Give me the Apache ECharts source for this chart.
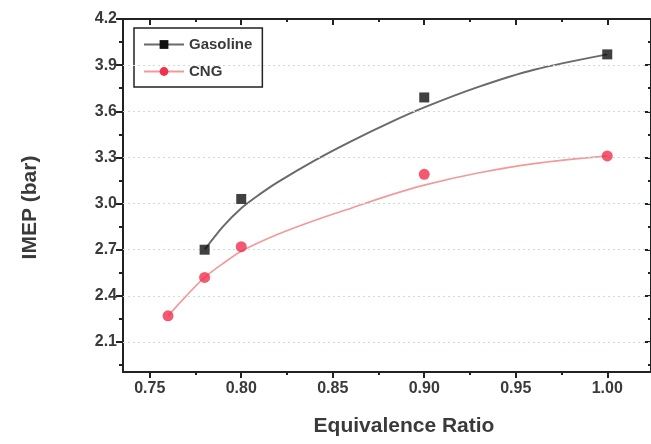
<!DOCTYPE html>
<html>
<head>
<meta charset="utf-8">
<script src="https://cdn.jsdelivr.net/npm/echarts@6/dist/echarts.min.js"></script>
<style>
html,body{margin:0;padding:0;background:#fff;}
#chart{width:651px;height:444px;}
</style>
</head>
<body>
<div id="chart"></div>
<script>
// Measured data points
const gasX = [0.78, 0.80, 0.90, 1.00];
const gasY = [2.70, 3.03, 3.69, 3.97];
const cngX = [0.76, 0.78, 0.80, 0.90, 1.00];
const cngY = [2.27, 2.52, 2.72, 3.19, 3.31];

// Fitted curves
const gasFitX = [0.78, 0.79, 0.80, 0.81, 0.82, 0.84, 0.86, 0.88, 0.90, 0.93, 0.96, 1.00];
const gasFitY = [2.70, 2.85, 2.97, 3.06, 3.14, 3.28, 3.405, 3.52, 3.625, 3.76, 3.87, 3.97];
const cngFitX = [0.76, 0.77, 0.78, 0.79, 0.80, 0.82, 0.84, 0.86, 0.88, 0.90, 0.93, 0.96, 1.00];
const cngFitY = [2.27, 2.40, 2.52, 2.61, 2.69, 2.80, 2.89, 2.97, 3.05, 3.12, 3.20, 3.26, 3.31];

// Tick values
const xMajorTicks = [0.75, 0.80, 0.85, 0.90, 0.95, 1.00];
const xMinorTicks = [0.775, 0.825, 0.875, 0.925, 0.975];
const yMajorTicks = [2.1, 2.4, 2.7, 3.0, 3.3, 3.6, 3.9, 4.2];
const yMinorTicks = [1.95, 2.25, 2.55, 2.85, 3.15, 3.45, 3.75, 4.05];
const yGridLines = [2.1, 2.4, 2.7, 3.0, 3.3, 3.6, 3.9];

const X_MIN = 0.7354, X_MAX = 1.0239, Y_MIN = 1.905, Y_MAX = 4.2;
const AX = '#222';
const TXT = '#3a3a3a';
const FONT = 'Liberation Sans';

function zip(a, b) { return a.map((v, i) => [v, b[i]]); }

function xAx(pos, ticks, len, inside, opts) {
  return Object.assign({
    type: 'value', position: pos, min: X_MIN, max: X_MAX,
    axisLine: { show: false, lineStyle: { color: AX, width: 2 } },
    axisTick: { show: true, inside: inside, length: len, customValues: ticks, lineStyle: { color: AX, width: 2 } },
    axisLabel: { show: false },
    splitLine: { show: false }
  }, opts || {});
}
function yAx(pos, ticks, len, inside, opts) {
  return Object.assign({
    type: 'value', position: pos, min: Y_MIN, max: Y_MAX,
    axisLine: { show: false, lineStyle: { color: AX, width: 2 } },
    axisTick: { show: true, inside: inside, length: len, customValues: ticks, lineStyle: { color: AX, width: 2 } },
    axisLabel: { show: false },
    splitLine: { show: false }
  }, opts || {});
}

const chart = echarts.init(document.getElementById('chart'), null, { renderer: 'canvas' });

const option = {
  animation: false,
  backgroundColor: '#fff',
  grid: { left: 123, right: -4, top: 19, bottom: 72, containLabel: false },
  legend: {
    orient: 'vertical',
    left: 134, top: 28,
    data: ['Gasoline', 'CNG'],
    itemWidth: 40, itemHeight: 11, itemGap: 12,
    padding: [9, 10, 8, 9],
    borderColor: '#222', borderWidth: 1.5,
    textStyle: { fontFamily: FONT, fontWeight: 'bold', fontSize: 15, color: TXT }
  },
  xAxis: [
    xAx('bottom', xMajorTicks, 6, false, {
      axisLine: { show: true, onZero: false, lineStyle: { color: AX, width: 2 } },
      axisLabel: { show: true, customValues: xMajorTicks, margin: 9,
        formatter: v => v.toFixed(2),
        fontFamily: FONT, fontWeight: 'bold', fontSize: 16, color: TXT },
      name: 'Equivalence Ratio', nameLocation: 'middle', nameGap: 44,
      nameTextStyle: { fontFamily: FONT, fontWeight: 'bold', fontSize: 21, color: TXT, padding: [0, 0, 0, 34] }
    }),
    xAx('bottom', xMinorTicks, 3, false),
    xAx('top', xMajorTicks, 6, true, { axisLine: { show: true, onZero: false, lineStyle: { color: AX, width: 2 } } }),
    xAx('top', xMinorTicks, 3, true)
  ],
  yAxis: [
    yAx('left', yMajorTicks, 7, false, {
      axisLine: { show: true, onZero: false, lineStyle: { color: AX, width: 2 } },
      axisLabel: { show: true, customValues: yMajorTicks, margin: 6,
        formatter: v => v.toFixed(1),
        fontFamily: FONT, fontWeight: 'bold', fontSize: 16, color: TXT },
      name: 'IMEP (bar)', nameLocation: 'middle', nameGap: 82,
      nameTextStyle: { fontFamily: FONT, fontWeight: 'bold', fontSize: 21, color: TXT, padding: [0, 24, 0, 0] }
    }),
    yAx('left', yMinorTicks, 4, false),
    yAx('right', yMajorTicks, 6, true, { axisLine: { show: true, onZero: false, lineStyle: { color: AX, width: 2 } } }),
    yAx('right', yMinorTicks, 3, true)
  ],
  series: [
    {
      name: 'grid', type: 'line', data: [], xAxisIndex: 0, yAxisIndex: 0, silent: true,
      markLine: {
        silent: true, symbol: 'none', label: { show: false },
        lineStyle: { color: '#c6dede', type: [2, 3], width: 1 },
        data: yGridLines.map(v => ({ yAxis: v }))
      }
    },
    {
      name: 'Gasoline', type: 'line', data: zip(gasFitX, gasFitY), smooth: 0.3,
      symbol: 'rect', showSymbol: false, itemStyle: { color: '#111' },
      lineStyle: { color: '#6a6a6a', width: 2 }, z: 3
    },
    {
      name: 'CNG', type: 'line', data: zip(cngFitX, cngFitY), smooth: 0.3,
      symbol: 'circle', showSymbol: false, itemStyle: { color: '#f0304c' },
      lineStyle: { color: '#f29a9a', width: 1.6 }, z: 3
    },
    {
      name: 'Gasoline points', type: 'scatter', data: zip(gasX, gasY),
      symbol: 'rect', symbolSize: 10, itemStyle: { color: '#111' }, z: 5
    },
    {
      name: 'CNG points', type: 'scatter', data: zip(cngX, cngY),
      symbol: 'circle', symbolSize: 11, itemStyle: { color: '#f0304c' }, z: 5
    }
  ]
};
chart.setOption(option);
</script>
</body>
</html>
